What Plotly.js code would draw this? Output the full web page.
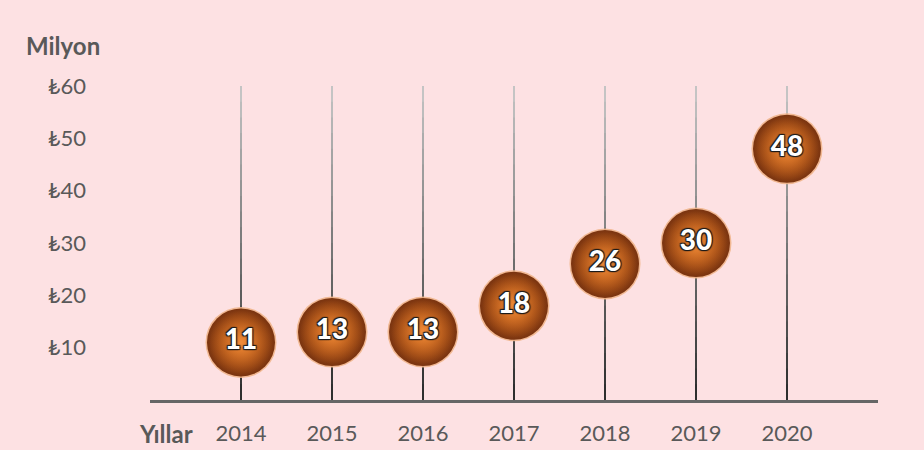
<!DOCTYPE html>
<html><head><meta charset="utf-8">
<script src="https://cdn.plot.ly/plotly-3.0.1.min.js"></script>
<style>html,body{margin:0;padding:0;background:#fde1e3;}#chart{width:924px;height:450px;}</style>
</head><body><div id="chart"></div>
<script>
const years = ['2014','2015','2016','2017','2018','2019','2020'];
const values = [11, 13, 13, 18, 26, 30, 48];
const yTicks = [10, 20, 30, 40, 50, 60];
const yTickLabels = ['₺10','₺20','₺30','₺40','₺50','₺60'];
const stemTop = 60;

const xIdx = years.map((_, i) => i);
const traces = [];
const FONT = 'Lato, "Open Sans", sans-serif';
// gradient stems: dark at bottom, light at top
const nSeg = 20;
function mix(a, b, t){ return Math.round(a + (b - a) * t); }
for (let s = 0; s < nSeg; s++) {
  const y0 = stemTop * s / nSeg, y1 = Math.min(stemTop, stemTop * (s + 1.15) / nSeg);
  const t = (s + 0.5) / nSeg;
  const c = mix(0x2a, 0xc8, t);
  const xs = [], ys = [];
  xIdx.forEach(i => { xs.push(i, i, null); ys.push(y0, y1, null); });
  traces.push({x: xs, y: ys, mode: 'lines', type: 'scatter', hoverinfo: 'skip',
    line: {color: `rgb(${c},${c},${c})`, width: 2}, showlegend: false, cliponaxis: false});
}
// ball halo
traces.push({x: xIdx, y: values, mode: 'markers', type: 'scatter', hoverinfo: 'skip', showlegend: false, cliponaxis: false,
  marker: {size: 71, color: 'rgba(240,180,138,0.9)', line: {width: 0}}});
// ball body with dark rim
traces.push({x: xIdx, y: values, mode: 'markers', type: 'scatter', hoverinfo: 'skip', showlegend: false, cliponaxis: false,
  marker: {size: 68, color: '#7a3410', gradient: {type: 'radial', color: '#d46c1e'}, line: {width: 0}}});
// orange glow
traces.push({x: xIdx, y: values, mode: 'markers', type: 'scatter', hoverinfo: 'skip', showlegend: false, cliponaxis: false,
  marker: {size: 64, color: 'rgba(212,108,30,0)', gradient: {type: 'radial', color: '#f08c3a'}, line: {width: 0}}});
// labels
traces.push({x: xIdx, y: values, mode: 'text', type: 'scatter', showlegend: false, cliponaxis: false,
  text: values.map(String), textposition: 'middle center',
  textfont: {family: FONT, size: 28, color: '#ffffff', weight: 900,
    shadow: '1px 1px 1px #1a1a1a, -1px -1px 1px #1a1a1a, 1px -1px 1px #1a1a1a, -1px 1px 1px #1a1a1a'}});

const layout = {
  width: 924, height: 450,
  paper_bgcolor: '#fde1e3', plot_bgcolor: '#fde1e3',
  margin: {l: 150, r: 46, t: 86, b: 50},
  showlegend: false,
  xaxis: {range: [-1, 7], tickvals: xIdx, ticktext: years, showgrid: false, zeroline: false,
    showline: true, linecolor: '#666666', linewidth: 3, ticks: '',
    tickfont: {family: FONT, size: 22, color: '#595959'}, ticklabelstandoff: 12, fixedrange: true},
  yaxis: {range: [0, 60], tickvals: yTicks, ticktext: yTickLabels, showgrid: false, zeroline: false,
    showline: false, ticks: '', ticklabelstandoff: 63,
    tickfont: {family: 'Lato, "DejaVu Sans", sans-serif', size: 22, color: '#595959'}, fixedrange: true},
  annotations: [
    {text: '<b>Milyon</b>', xref: 'paper', yref: 'paper', x: 0, y: 1, xanchor: 'left', yanchor: 'middle',
      xshift: -126, yshift: 41, showarrow: false, font: {family: FONT, size: 24, color: '#595959'}},
    {text: '<b>Yıllar</b>', xref: 'paper', yref: 'paper', x: 0, y: 0, xanchor: 'center', yanchor: 'middle',
      xshift: 16, yshift: -33, showarrow: false, font: {family: FONT, size: 24, color: '#595959'}}
  ]
};
Plotly.newPlot('chart', traces, layout, {displayModeBar: false, staticPlot: true});
</script></body></html>
